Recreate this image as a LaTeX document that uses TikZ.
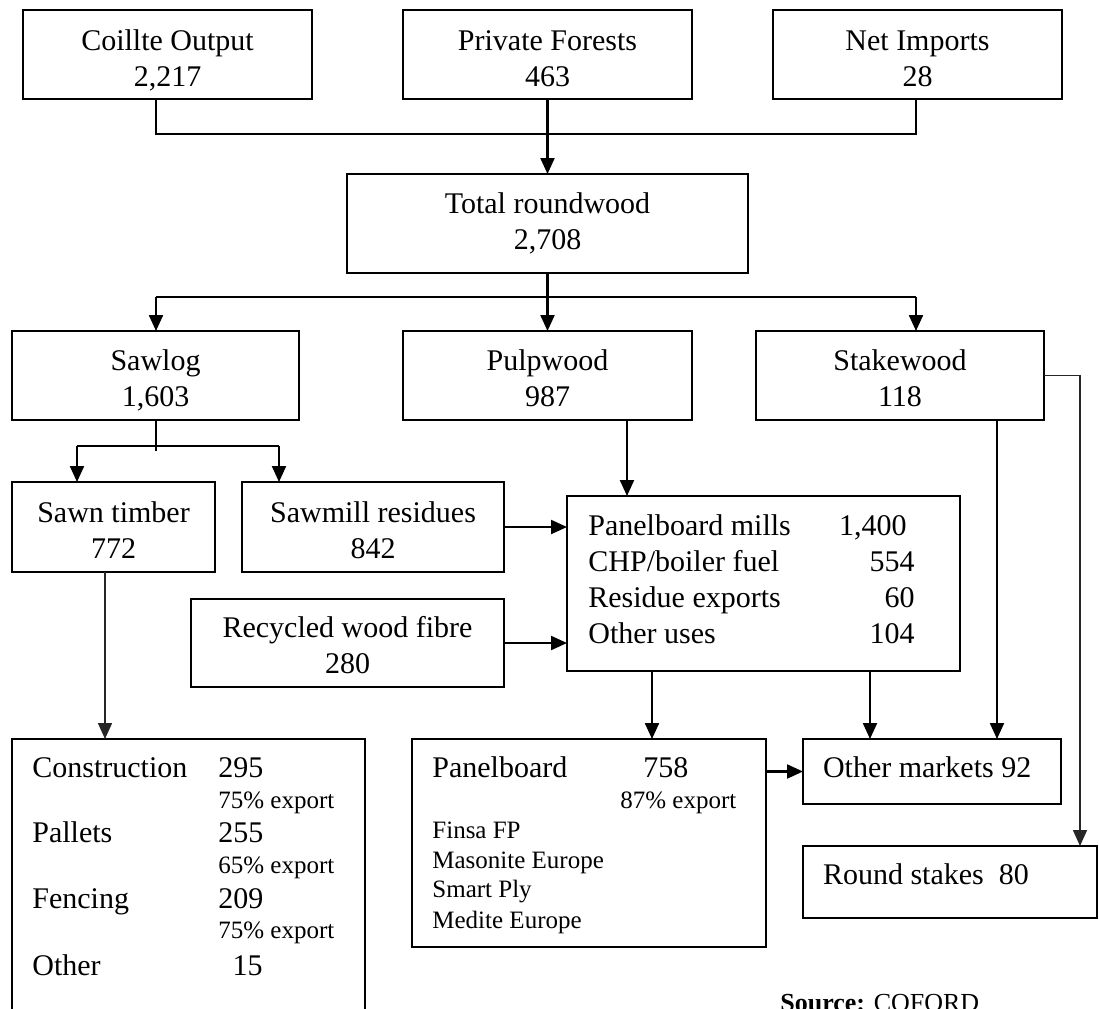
\documentclass[tikz,border=0pt]{standalone}
\usepackage{fontspec}
\setmainfont{Liberation Serif}
\usetikzlibrary{arrows.meta,calc}
\begin{document}
\begin{tikzpicture}[x=0.5pt,y=-0.5pt,
  box/.style={draw, line width=1.2pt, anchor=north west, inner sep=0pt, outer sep=0pt},
  ln/.style={line width=1.1pt},
  arr/.style={line width=1.1pt, -{Triangle[width=7pt,length=8pt]}},
  thinarr/.style={line width=0.8pt, draw=black!85, -{Triangle[width=7pt,length=8pt]}},
  main/.style={font=\fontsize{15}{18}\selectfont, inner sep=0pt},
  small/.style={font=\fontsize{12.5}{15}\selectfont, inner sep=0pt},
]
\useasboundingbox (0,0) rectangle (1099,1008);
\fill[white] (0,0) rectangle (1099,1008);

% boxes
\node[box, minimum width=144.5pt, minimum height=44.5pt] (coillte) at (23,10) {};
\node[box, minimum width=144.5pt, minimum height=44.5pt] (private) at (403,10) {};
\node[box, minimum width=144.5pt, minimum height=44.5pt] (net) at (773,10) {};
\node[box, minimum width=200.5pt, minimum height=49.5pt] (total) at (347,174) {};
\node[box, minimum width=143.5pt, minimum height=44.5pt] (sawlog) at (12,331) {};
\node[box, minimum width=144.5pt, minimum height=44.5pt] (pulp) at (403,331) {};
\node[box, minimum width=144pt, minimum height=44.5pt] (stake) at (756,331) {};
\node[box, minimum width=101.5pt, minimum height=45pt] (sawn) at (12,482) {};
\node[box, minimum width=131pt, minimum height=45pt] (residues) at (242,482) {};
\node[box, minimum width=196.5pt, minimum height=87.5pt] (mills) at (567,496) {};
\node[box, minimum width=156.5pt, minimum height=44pt] (recycled) at (191,599) {};
\node[box, minimum width=176.5pt, minimum height=137.5pt] (construction) at (12,739) {};
\node[box, minimum width=177pt, minimum height=104pt] (panelboard) at (412,739) {};
\node[box, minimum width=129pt, minimum height=32.5pt] (othermk) at (803,739) {};
\node[box, minimum width=147pt, minimum height=36pt] (roundst) at (803,846) {};

% two-line box texts
\node[main, anchor=base] (tco1) at (167.5,50) {Coillte Output};
\node[main, anchor=base] (tco2) at (167.5,86) {2,217};
\node[main, anchor=base] (tpr1) at (547.5,50) {Private Forests};
\node[main, anchor=base] (tpr2) at (547.5,86) {463};
\node[main, anchor=base] (tne1) at (917.5,50) {Net Imports};
\node[main, anchor=base] (tne2) at (917.5,86) {28};
\node[main, anchor=base] (tto1) at (547.5,213) {Total roundwood};
\node[main, anchor=base] (tto2) at (547.5,249) {2,708};
\node[main, anchor=base] (tsa1) at (155.5,370) {Sawlog};
\node[main, anchor=base] (tsa2) at (155.5,406) {1,603};
\node[main, anchor=base] (tpu1) at (547.5,370) {Pulpwood};
\node[main, anchor=base] (tpu2) at (547.5,406) {987};
\node[main, anchor=base] (tst1) at (900,370) {Stakewood};
\node[main, anchor=base] (tst2) at (900,406) {118};
\node[main, anchor=base] (tsw1) at (113.5,522) {Sawn timber};
\node[main, anchor=base] (tsw2) at (113.5,558) {772};
\node[main, anchor=base] (tre1) at (373,522) {Sawmill residues};
\node[main, anchor=base] (tre2) at (373,558) {842};
\node[main, anchor=base] (trc1) at (347.5,637) {Recycled wood fibre};
\node[main, anchor=base] (trc2) at (347.5,673) {280};

% mills list
\node[main, anchor=base west] (tm1) at (588,535) {Panelboard mills};
\node[main, anchor=base east] (tm1n) at (907,535) {1,400};
\node[main, anchor=base west] (tm2) at (588,571) {CHP/boiler fuel};
\node[main, anchor=base east] (tm2n) at (915,571) {554};
\node[main, anchor=base west] (tm3) at (588,607) {Residue exports};
\node[main, anchor=base east] (tm3n) at (915,607) {60};
\node[main, anchor=base west] (tm4) at (588,643) {Other uses};
\node[main, anchor=base east] (tm4n) at (915,643) {104};

% construction list
\node[main, anchor=base west] (tc1) at (32,777) {Construction};
\node[main, anchor=base west] (tc1n) at (218,777) {295};
\node[small, anchor=base west] (tc1e) at (218,808) {75\% export};
\node[main, anchor=base west] (tc2) at (32,842) {Pallets};
\node[main, anchor=base west] (tc2n) at (218,842) {255};
\node[small, anchor=base west] (tc2e) at (218,873) {65\% export};
\node[main, anchor=base west] (tc3) at (32,908) {Fencing};
\node[main, anchor=base west] (tc3n) at (218,908) {209};
\node[small, anchor=base west] (tc3e) at (218,938) {75\% export};
\node[main, anchor=base west] (tc4) at (32,975) {Other};
\node[main, anchor=base east] (tc4n) at (263,975) {15};

% panelboard list
\node[main, anchor=base west] (tp1) at (432,777) {Panelboard};
\node[main, anchor=base west] (tp1n) at (643,777) {758};
\node[small, anchor=base west] (tp1e) at (620,808) {87\% export};
\node[small, anchor=base west] (tp2) at (432,838) {Finsa FP};
\node[small, anchor=base west] (tp3) at (432,868) {Masonite Europe};
\node[small, anchor=base west] (tp4) at (432,897) {Smart Ply};
\node[small, anchor=base west] (tp5) at (432,928) {Medite Europe};

\node[main, anchor=base west] (tom) at (822.6,777) {Other markets 92};
\node[main, anchor=base west] (trs) at (822.6,884) {Round stakes\ \ 80};

\node[font=\fontsize{13}{15}\selectfont, inner sep=0pt, anchor=base west] (src) at (780,1011) {\textbf{Source:} COFORD};

% connectors
\coordinate (cx1) at (156,134);
\coordinate (cx2) at (916,134);
\draw[ln] (coillte.south -| cx1) -- (cx1) -- (cx2) -- (net.south -| cx2);
\draw[arr] (private.south) -- (total.north);

\coordinate (h1) at (156,297);
\coordinate (h2) at (916,297);
\draw[ln] (h1) -- (h2);
\draw[arr] (h1) -- (sawlog.north -| h1);
\draw[arr] (h2) -- (stake.north -| h2);
\draw[arr] (total.south) -- (pulp.north);

\coordinate (s0) at (156,446);
\coordinate (s3) at (156,451);
\coordinate (s1) at (77,446);
\coordinate (s2) at (279,446);
\draw[ln] (sawlog.south -| s0) -- (s3);
\draw[ln] (s1) -- (s2);
\draw[arr] (s1) -- (sawn.north -| s1);
\draw[arr] (s2) -- (residues.north -| s2);

\draw[arr] (residues.east) -- (residues.east -| mills.west);
\draw[arr] (recycled.east) -- (recycled.east -| mills.west);
\coordinate (p1) at (627,450);
\draw[arr] (pulp.south -| p1) -- (mills.north -| p1);

\coordinate (t1) at (105,700);
\draw[thinarr] (sawn.south -| t1) -- (construction.north -| t1);

\coordinate (m1) at (652,700);
\coordinate (m2) at (870,700);
\draw[arr] (mills.south -| m1) -- (panelboard.north -| m1);
\draw[arr] (mills.south -| m2) -- (othermk.north -| m2);
\coordinate (k1) at (997,600);
\draw[arr] (stake.south -| k1) -- (othermk.north -| k1);
\draw[arr] (panelboard.east |- othermk.west) -- (othermk.west);

\coordinate (r1) at (1080,377);
\draw[thinarr] (stake.east) -| (roundst.north -| r1);
\end{tikzpicture}
\end{document}
